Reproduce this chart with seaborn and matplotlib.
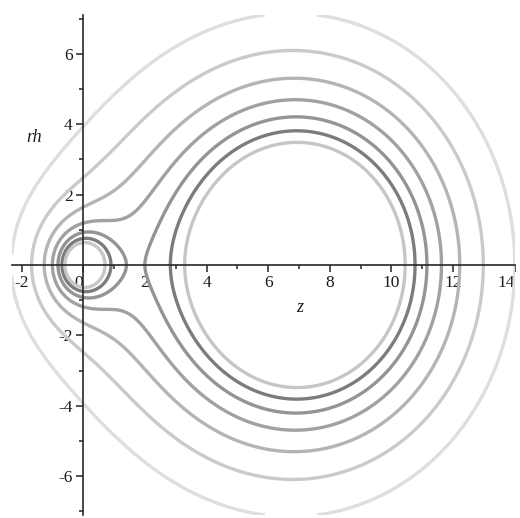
import numpy as np
import matplotlib
matplotlib.use("Agg")
import matplotlib.pyplot as plt
import seaborn as sns

# Two sources on the axis: a small charge at the origin and a large one at z = 7
source_z = [0.0, 7.0]
source_strength = [1.0, 10.0]

# Equipotential levels and their grey shades
levels = [1.5, 1.75, 2.0, 2.25, 2.5, 2.75, 3.0]
level_colors = ["#dedede", "#cacaca", "#b4b4b4", "#a1a1a1", "#949494", "#7c7c7c", "#c6c6c6"]

x_ticks = [-2, 0, 2, 4, 6, 8, 10, 12, 14]
y_ticks = [-6, -4, -2, 2, 4, 6]

sns.set_theme(style="white")
plt.rcParams["font.family"] = ["Liberation Serif", "DejaVu Serif"]

fig = plt.figure(figsize=(5.2, 5.18), dpi=100)
ax = fig.add_axes([0.0225, 0.006, 0.9675, 0.965])

xlim = (-2.32, 14.0)
ylim = (-7.1, 7.1)

zz = np.linspace(xlim[0], xlim[1], 1301)
rr = np.linspace(ylim[0], ylim[1], 1201)
Z, R = np.meshgrid(zz, rr)
V = np.zeros_like(Z)
for zs, q in zip(source_z, source_strength):
    V += q / np.sqrt((Z - zs) ** 2 + R ** 2 + 1e-12)

ax.contour(Z, R, V, levels=levels, colors=level_colors, linewidths=2.4)

ax.set_xlim(*xlim)
ax.set_ylim(*ylim)

# Axes crossing at the origin
for side in ("top", "right"):
    ax.spines[side].set_visible(False)
for side in ("left", "bottom"):
    ax.spines[side].set_position("zero")
    ax.spines[side].set_color("#262626")
    ax.spines[side].set_linewidth(1.2)

ax.set_xticks(x_ticks)
ax.set_xticklabels([str(t) for t in x_ticks])
ax.set_yticks(y_ticks)
ax.set_yticklabels([str(t) for t in y_ticks])
ax.set_xticks(np.arange(-1, 14, 2), minor=True)
ax.set_yticks([-7, -5, -3, -1, 1, 3, 5, 7], minor=True)

ax.tick_params(axis="both", which="major", direction="out", length=5, width=1.1,
               color="#262626", labelsize=12.5, labelcolor="#1c1c1c", pad=2.5)
ax.tick_params(axis="both", which="minor", direction="out", length=3, width=1.1,
               color="#262626")
ax.tick_params(axis="x", which="both", bottom=True)
ax.tick_params(axis="y", which="both", left=True)

for lab in ax.get_xticklabels():
    if lab.get_text() == "0":
        lab.set_horizontalalignment("right")
    elif lab.get_text() == "14":
        lab.set_horizontalalignment("right")

ax.text(7.03, -1.2, "z", fontsize=13, fontstyle="italic", color="#1c1c1c",
        ha="center", va="center")
ax.text(-1.6, 3.63, "rh", fontsize=13, fontstyle="italic", color="#1c1c1c",
        ha="center", va="center")

ax.set_facecolor("white")
fig.patch.set_facecolor("white")
fig.savefig("out.png", dpi=100, facecolor="white")
